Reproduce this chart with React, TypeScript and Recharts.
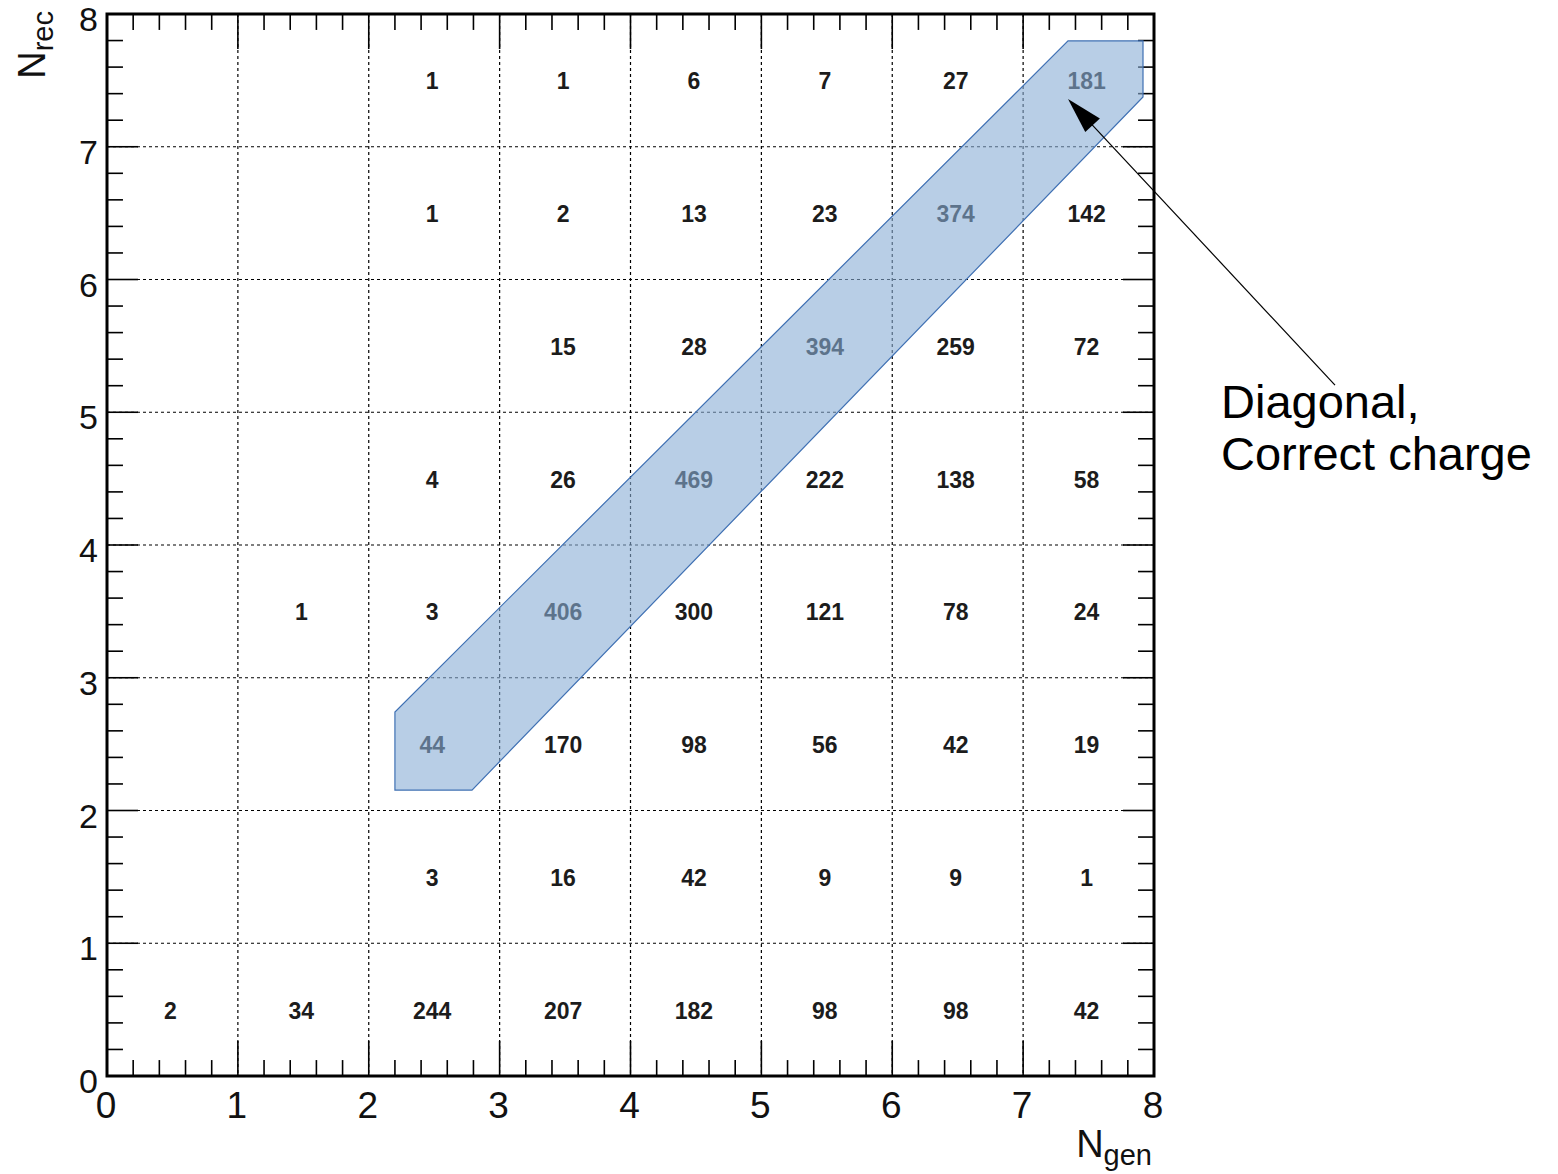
import {
  CartesianGrid,
  Label,
  ReferenceArea,
  ReferenceLine,
  Scatter,
  ScatterChart,
  XAxis,
  YAxis,
} from "recharts";

const FONT = '"Liberation Sans", Arial, Helvetica, sans-serif';

const binCenters = [0.5, 1.5, 2.5, 3.5, 4.5, 5.5, 6.5, 7.5];
const axisTicks = [0, 1, 2, 3, 4, 5, 6, 7, 8];

// counts for each N_rec bin, one entry per N_gen bin (null = empty)
const rec0 = [2, 34, 244, 207, 182, 98, 98, 42];
const rec1 = [null, null, 3, 16, 42, 9, 9, 1];
const rec2 = [null, null, 44, 170, 98, 56, 42, 19];
const rec3 = [null, 1, 3, 406, 300, 121, 78, 24];
const rec4 = [null, null, 4, 26, 469, 222, 138, 58];
const rec5 = [null, null, null, 15, 28, 394, 259, 72];
const rec6 = [null, null, 1, 2, 13, 23, 374, 142];
const rec7 = [null, null, 1, 1, 6, 7, 27, 181];
const recRows = [rec0, rec1, rec2, rec3, rec4, rec5, rec6, rec7];

// outline of the shaded "diagonal" band, in axis units
const bandX = [2.2, 2.2, 7.343, 7.916, 7.916, 2.789];
const bandY = [2.154, 2.742, 7.797, 7.797, 7.375, 2.154];

// annotation arrow (tail -> tip), axis units
const arrowFrom = { x: 9.383, y: 5.205 };
const arrowTo = { x: 7.343, y: 7.36 };
const noteLines = ["Diagonal,", "Correct charge"];

const cells: { x: number; y: number; n: number }[] = [];
recRows.forEach((row, r) =>
  row.forEach((n, g) => {
    if (n != null) cells.push({ x: binCenters[g], y: binCenters[r], n });
  })
);

const band = bandX.map((x, i) => ({ x, y: bandY[i] }));

// inward tick marks: 5 subdivisions per unit
const tickMarks: { v: number; major: boolean }[] = [];
for (let i = 1; i < 40; i++) tickMarks.push({ v: i / 5, major: i % 5 === 0 });
const X_MAJ = 0.264; // tick length along y (x axis ticks)
const X_MIN = 0.12;
const Y_MAJ = 0.237; // tick length along x (y axis ticks)
const Y_MIN = 0.122;

const XTick = ({ x, y, payload }: any) => (
  <text x={x - 1} y={y + 42} textAnchor="middle" fontSize={37} fill="#111" fontFamily={FONT}>
    {payload.value}
  </text>
);

const YTick = ({ x, y, payload }: any) => (
  <text x={x - 9} y={y + 17} textAnchor="end" fontSize={34} fill="#111" fontFamily={FONT}>
    {payload.value}
  </text>
);

const CellText = (p: any) => (
  <text
    x={p.cx - 2}
    y={p.cy + 9}
    textAnchor="middle"
    fontSize={23}
    fontWeight="bold"
    fill="#1c1c1c"
    fontFamily={FONT}
  >
    {p.payload.n}
  </text>
);

const BandShape = (p: any) => {
  const pts = (p.points || []) as { x: number; y: number }[];
  if (!pts.length) return <g />;
  const d = pts.map((q, i) => `${i ? "L" : "M"}${q.x},${q.y}`).join(" ") + " Z";
  return (
    <path
      d={d}
      fill="rgb(137,173,213)"
      fillOpacity={0.6}
      stroke="#3f70b3"
      strokeWidth={1.2}
    />
  );
};

const Arrow = (p: any) => {
  const { x1, y1, x2, y2 } = p;
  const dx = x2 - x1;
  const dy = y2 - y1;
  const len = Math.hypot(dx, dy) || 1;
  const ux = dx / len;
  const uy = dy / len;
  const head = 36;
  const half = 10;
  const bx = x2 - ux * head;
  const by = y2 - uy * head;
  const tri = `${x2},${y2} ${bx - uy * half},${by + ux * half} ${bx + uy * half},${by - ux * half}`;
  return (
    <g>
      <line x1={x1} y1={y1} x2={bx + ux * 4} y2={by + uy * 4} stroke="#000" strokeWidth={1.2} />
      <polygon points={tri} fill="#000" />
      {noteLines.map((t, i) => (
        <text key={t} x={x1 - 114} y={y1 + 33 + i * 52} fontSize={47} fill="#000" fontFamily={FONT}>
          {t}
        </text>
      ))}
    </g>
  );
};

export default function App() {
  return (
    <div style={{ position: "absolute", left: 0, top: 0 }}>
      <ScatterChart
        width={1558}
        height={1174}
        margin={{ top: 14, right: 404, bottom: 0, left: 0 }}
        style={{ fontFamily: FONT }}
      >
        <CartesianGrid stroke="#000" strokeDasharray="3 3" strokeWidth={1.2} />
        <XAxis
          type="number"
          dataKey="x"
          domain={[0, 8]}
          ticks={axisTicks}
          allowDataOverflow
          height={98}
          tickLine={false}
          axisLine={false}
          tickSize={0}
          tickMargin={0}
          tick={<XTick />}
          interval={0}
        >
          <Label
            content={({ viewBox }: any) => (
              <text
                x={viewBox.x + viewBox.width - 2}
                y={viewBox.y + 81}
                textAnchor="end"
                fill="#111"
                fontFamily={FONT}
              >
                <tspan fontSize={38}>N</tspan>
                <tspan fontSize={29} dy={8}>gen</tspan>
              </text>
            )}
          />
        </XAxis>
        <YAxis
          type="number"
          dataKey="y"
          domain={[0, 8]}
          ticks={axisTicks}
          allowDataOverflow
          width={107}
          tickLine={false}
          axisLine={false}
          tickSize={0}
          tickMargin={0}
          tick={<YTick />}
          interval={0}
        >
          <Label
            content={({ viewBox }: any) => {
              const lx = viewBox.x + 45;
              const ly = viewBox.y - 3;
              return (
                <text
                  x={lx}
                  y={ly}
                  textAnchor="end"
                  transform={`rotate(-90 ${lx} ${ly})`}
                  fill="#111"
                  fontFamily={FONT}
                >
                  <tspan fontSize={38}>N</tspan>
                  <tspan fontSize={29} dy={8}>rec</tspan>
                </text>
              );
            }}
          />
        </YAxis>

        {tickMarks.map((t) => (
          <ReferenceLine
            key={`b${t.v}`}
            segment={[{ x: t.v, y: 0 }, { x: t.v, y: t.major ? X_MAJ : X_MIN }]}
            stroke="#000"
            strokeWidth={1.6}
          />
        ))}
        {tickMarks.map((t) => (
          <ReferenceLine
            key={`t${t.v}`}
            segment={[{ x: t.v, y: 8 }, { x: t.v, y: 8 - (t.major ? X_MAJ : X_MIN) }]}
            stroke="#000"
            strokeWidth={1.6}
          />
        ))}
        {tickMarks.map((t) => (
          <ReferenceLine
            key={`l${t.v}`}
            segment={[{ x: 0, y: t.v }, { x: t.major ? Y_MAJ : Y_MIN, y: t.v }]}
            stroke="#000"
            strokeWidth={1.6}
          />
        ))}
        {tickMarks.map((t) => (
          <ReferenceLine
            key={`r${t.v}`}
            segment={[{ x: 8, y: t.v }, { x: 8 - (t.major ? Y_MAJ : Y_MIN), y: t.v }]}
            stroke="#000"
            strokeWidth={1.6}
          />
        ))}

        <ReferenceArea x1={0} x2={8} y1={0} y2={8} fill="none" fillOpacity={0} stroke="#000" strokeWidth={3} />

        <Scatter data={cells} shape={<CellText />} isAnimationActive={false} />
        <Scatter
          data={band}
          line={BandShape}
          lineType="joint"
          shape={() => <g />}
          isAnimationActive={false}
        />

        <ReferenceLine
          segment={[arrowFrom, arrowTo]}
          ifOverflow="visible"
          shape={<Arrow />}
          zIndex={2000}
        />
      </ScatterChart>
    </div>
  );
}
